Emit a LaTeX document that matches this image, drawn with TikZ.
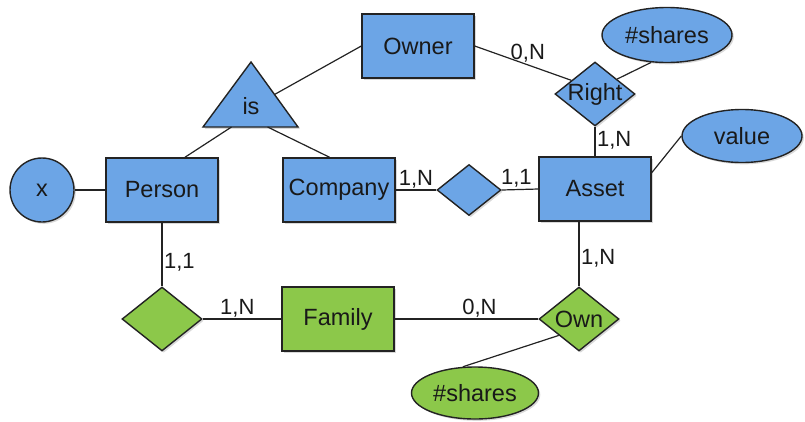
\documentclass[tikz,border=0pt]{standalone}
\usepackage{fontspec}
\setmainfont{Liberation Sans}
\usepackage{tikz}
\usetikzlibrary{shapes.geometric}
\usetikzlibrary{shadows}
\usetikzlibrary{positioning}
\usetikzlibrary{calc}
\usepackage{xcolor}
\definecolor{erblue}{RGB}{108,165,230}
\definecolor{ergreen}{RGB}{140,200,74}
\definecolor{erline}{RGB}{35,35,35}

\begin{document}
\begin{tikzpicture}[x=1pt,y=-1pt,
    softshadow/.style={drop shadow={shadow xshift=1.8pt,shadow yshift=-1.8pt,opacity=0.3}},
    box/.style={draw=erline,line width=1.4pt,softshadow,inner sep=0pt,text=black!90,font=\fontsize{23.5}{28}\selectfont},
    entity/.style={box,rectangle,minimum width=112,minimum height=64},
    rel/.style={box,diamond,minimum width=80,minimum height=64},
    attr/.style={box,ellipse},
    bl/.style={fill=erblue},
    gr/.style={fill=ergreen},
    link/.style={draw=erline,line width=1.2pt},
    card/.style={font=\fontsize{22}{26}\selectfont,inner sep=1.5pt,text=black!90}]
        \useasboundingbox (0,0) rectangle (805,421);

        \node[entity,bl] (owner) at (418,46) {Owner};
        \node[rel,bl] (right) at ($(owner)+(177,48)$) {\makebox[0pt]{Right}};
        \node[attr,bl,minimum width=130,minimum height=55] (shares1) at ($(right)+(72,-59)$) {\#shares};
        \node[entity,bl] (asset) at ($(right)+(0,95)$) {Asset};
        \node[attr,bl,minimum width=120,minimum height=53] (value) at ($(asset)+(147,-53)$) {value};
        \node[rel,bl,minimum width=64,minimum height=51] (mid) at ($(asset)+(-126,1)$) {};
        \node[entity,bl] (company) at (339,190) {Company};
        \node[entity,bl] (person) at (162,190) {Person};
        \node[box,bl,circle,minimum size=64] (xattr) at ($(person)+(-120,0)$) {x};

        \coordinate (isA) at (251,62);
        \coordinate (isL) at (203,127);
        \coordinate (isR) at (298,127);
        \draw[box,bl] (isA) -- (isR) -- (isL) -- cycle;
        \node[font=\fontsize{23.5}{28}\selectfont,inner sep=0pt,text=black!90] (isT) at (251,106) {is};

        \node[rel,gr] (gdia) at ($(person)+(0,129)$) {};
        \node[entity,gr] (family) at (338,319) {Family};
        \node[rel,gr] (own) at ($(asset)+(-16,130)$) {\makebox[0pt]{Own}};
        \node[attr,gr,minimum width=127,minimum height=52] (shares2) at ($(own)+(-104,74)$) {\#shares};

        \draw[link] (xattr) -- (person);
        \draw[link] (person.55) -- ($(isL)!0.3!(isR)$);
        \draw[link] (company.106) -- ($(isL)!0.68!(isR)$);
        \draw[link] (owner.west) -- ($(isA)!0.5!(isR)$);
        \draw[link] (owner.east) -- node[card,above,pos=0.55] (cOwner) {0,N} (right.150);
        \draw[link] (right.34) -- (shares1.240);
        \draw[link] (right.south) -- node[card,right,pos=0.45] (cRight) {1,N} (asset.north);
        \draw[link] (asset.16) -- (value.west);
        \draw[link] (company.east) -- node[card,above] (cCompany) {1,N} (mid.west);
        \draw[link] (mid.east) -- node[card,above,pos=0.4] (cAsset) {1,1} (asset.west);
        \draw[link] (own.north |- asset.south) -- node[card,right,pos=0.56] (cOwn) {1,N} (own.north);
        \draw[link] (person.south) -- node[card,right,pos=0.62] (cPerson) {1,1} (gdia.north);
        \draw[link] (gdia.east) -- node[card,above,pos=0.44] (cFamily) {1,N} (family.west);
        \draw[link] (family.east) -- node[card,above,pos=0.59] (cFamOwn) {0,N} (own.west);
        \draw[link] (own.219) -- (shares2.115);
    \end{tikzpicture}
\end{document}
